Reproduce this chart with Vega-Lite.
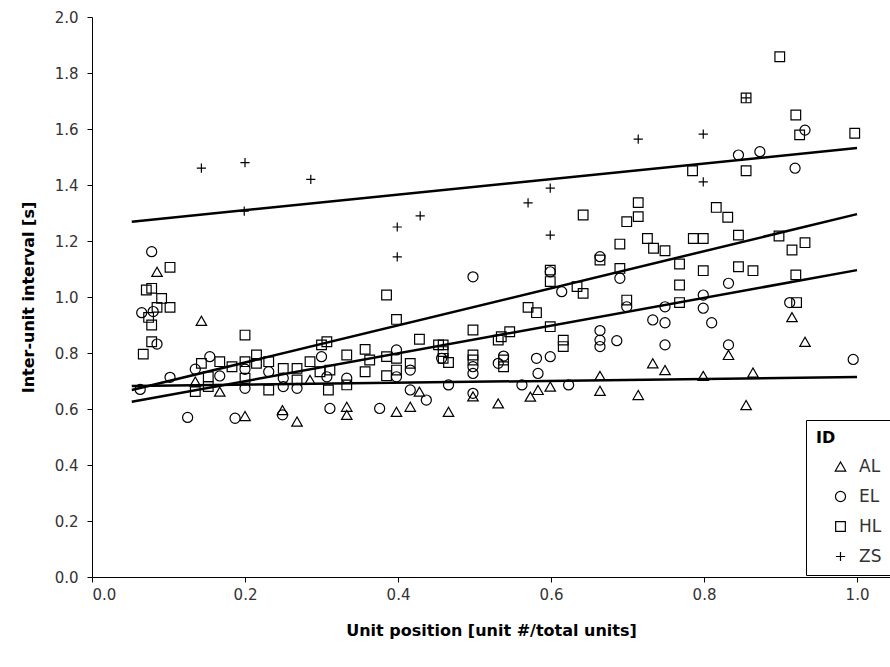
{
  "$schema": "https://vega.github.io/schema/vega-lite/v6.json",
  "autosize": {"type": "none"},
  "padding": {"left": 92, "top": 17, "right": 0, "bottom": 90},
  "width": 798,
  "height": 560,
  "background": "white",
  "config": {
    "view": {"stroke": null},
    "font": "DejaVu Sans",
    "axis": {
      "domainColor": "black",
      "tickColor": "black",
      "grid": false,
      "labelFont": "DejaVu Sans",
      "labelFontSize": 15,
      "labelColor": "#333333",
      "titleFont": "DejaVu Sans",
      "titleFontSize": 16,
      "titleFontWeight": "bold",
      "titleColor": "black",
      "tickSize": 5
    },
    "legend": {
      "orient": "none",
      "legendX": 714,
      "legendY": 403,
      "strokeColor": "black",
      "fillColor": "white",
      "padding": 10,
      "titleFont": "DejaVu Sans",
      "titleFontSize": 16,
      "titleFontWeight": "bold",
      "titleColor": "black",
      "titlePadding": 12,
      "labelFont": "DejaVu Sans",
      "labelFontSize": 17,
      "labelColor": "#333333",
      "labelOffset": 10,
      "symbolOffset": 16,
      "rowPadding": 12,
      "symbolStrokeColor": "black"
    }
  },
  "datasets": {
    "lines": [
      {"x": 0.052, "y": 1.269, "id": "ZS"}, {"x": 1.0, "y": 1.532, "id": "ZS"},
      {"x": 0.052, "y": 0.668, "id": "HL"}, {"x": 1.0, "y": 1.296, "id": "HL"},
      {"x": 0.052, "y": 0.626, "id": "EL"}, {"x": 1.0, "y": 1.096, "id": "EL"},
      {"x": 0.052, "y": 0.682, "id": "AL"}, {"x": 1.0, "y": 0.714, "id": "AL"}
    ],
    "points": [
      {"x": 0.085, "y": 1.090, "id": "AL"}, {"x": 0.143, "y": 0.915, "id": "AL"}, {"x": 0.135, "y": 0.698, "id": "AL"},
      {"x": 0.167, "y": 0.662, "id": "AL"}, {"x": 0.2, "y": 0.575, "id": "AL"}, {"x": 0.249, "y": 0.596, "id": "AL"},
      {"x": 0.268, "y": 0.555, "id": "AL"}, {"x": 0.285, "y": 0.704, "id": "AL"}, {"x": 0.333, "y": 0.608, "id": "AL"},
      {"x": 0.333, "y": 0.579, "id": "AL"}, {"x": 0.398, "y": 0.590, "id": "AL"}, {"x": 0.416, "y": 0.608, "id": "AL"},
      {"x": 0.428, "y": 0.662, "id": "AL"}, {"x": 0.466, "y": 0.590, "id": "AL"}, {"x": 0.498, "y": 0.645, "id": "AL"},
      {"x": 0.531, "y": 0.620, "id": "AL"}, {"x": 0.573, "y": 0.644, "id": "AL"}, {"x": 0.583, "y": 0.668, "id": "AL"},
      {"x": 0.599, "y": 0.680, "id": "AL"}, {"x": 0.664, "y": 0.718, "id": "AL"}, {"x": 0.664, "y": 0.665, "id": "AL"},
      {"x": 0.714, "y": 0.650, "id": "AL"}, {"x": 0.733, "y": 0.763, "id": "AL"}, {"x": 0.749, "y": 0.739, "id": "AL"},
      {"x": 0.799, "y": 0.718, "id": "AL"}, {"x": 0.855, "y": 0.614, "id": "AL"}, {"x": 0.864, "y": 0.730, "id": "AL"},
      {"x": 0.832, "y": 0.793, "id": "AL"}, {"x": 0.915, "y": 0.928, "id": "AL"}, {"x": 0.932, "y": 0.840, "id": "AL"},

      {"x": 0.078, "y": 1.162, "id": "EL"}, {"x": 0.065, "y": 0.944, "id": "EL"}, {"x": 0.080, "y": 0.948, "id": "EL"},
      {"x": 0.085, "y": 0.832, "id": "EL"}, {"x": 0.063, "y": 0.670, "id": "EL"}, {"x": 0.102, "y": 0.713, "id": "EL"},
      {"x": 0.154, "y": 0.787, "id": "EL"}, {"x": 0.135, "y": 0.742, "id": "EL"}, {"x": 0.167, "y": 0.718, "id": "EL"},
      {"x": 0.2, "y": 0.742, "id": "EL"}, {"x": 0.2, "y": 0.674, "id": "EL"}, {"x": 0.231, "y": 0.733, "id": "EL"},
      {"x": 0.25, "y": 0.710, "id": "EL"}, {"x": 0.25, "y": 0.680, "id": "EL"}, {"x": 0.268, "y": 0.674, "id": "EL"},
      {"x": 0.30, "y": 0.787, "id": "EL"}, {"x": 0.307, "y": 0.715, "id": "EL"}, {"x": 0.311, "y": 0.602, "id": "EL"},
      {"x": 0.125, "y": 0.570, "id": "EL"}, {"x": 0.187, "y": 0.567, "id": "EL"}, {"x": 0.249, "y": 0.579, "id": "EL"},
      {"x": 0.398, "y": 0.811, "id": "EL"}, {"x": 0.398, "y": 0.715, "id": "EL"}, {"x": 0.416, "y": 0.739, "id": "EL"},
      {"x": 0.416, "y": 0.668, "id": "EL"}, {"x": 0.437, "y": 0.632, "id": "EL"}, {"x": 0.466, "y": 0.686, "id": "EL"},
      {"x": 0.498, "y": 1.072, "id": "EL"}, {"x": 0.498, "y": 0.751, "id": "EL"}, {"x": 0.498, "y": 0.727, "id": "EL"},
      {"x": 0.498, "y": 0.656, "id": "EL"}, {"x": 0.531, "y": 0.763, "id": "EL"}, {"x": 0.538, "y": 0.789, "id": "EL"},
      {"x": 0.581, "y": 0.781, "id": "EL"}, {"x": 0.599, "y": 0.787, "id": "EL"}, {"x": 0.583, "y": 0.727, "id": "EL"},
      {"x": 0.562, "y": 0.686, "id": "EL"}, {"x": 0.623, "y": 0.686, "id": "EL"}, {"x": 0.333, "y": 0.710, "id": "EL"},
      {"x": 0.376, "y": 0.602, "id": "EL"}, {"x": 0.599, "y": 1.090, "id": "EL"}, {"x": 0.614, "y": 1.019, "id": "EL"},
      {"x": 0.664, "y": 1.144, "id": "EL"}, {"x": 0.690, "y": 1.067, "id": "EL"}, {"x": 0.832, "y": 1.049, "id": "EL"},
      {"x": 0.799, "y": 1.007, "id": "EL"}, {"x": 0.749, "y": 0.965, "id": "EL"}, {"x": 0.699, "y": 0.965, "id": "EL"},
      {"x": 0.799, "y": 0.960, "id": "EL"}, {"x": 0.733, "y": 0.918, "id": "EL"}, {"x": 0.749, "y": 0.908, "id": "EL"},
      {"x": 0.810, "y": 0.908, "id": "EL"}, {"x": 0.912, "y": 0.980, "id": "EL"}, {"x": 0.664, "y": 0.880, "id": "EL"},
      {"x": 0.664, "y": 0.846, "id": "EL"}, {"x": 0.664, "y": 0.823, "id": "EL"}, {"x": 0.686, "y": 0.844, "id": "EL"},
      {"x": 0.749, "y": 0.829, "id": "EL"}, {"x": 0.832, "y": 0.829, "id": "EL"}, {"x": 0.995, "y": 0.777, "id": "EL"},
      {"x": 0.845, "y": 1.507, "id": "EL"}, {"x": 0.873, "y": 1.519, "id": "EL"}, {"x": 0.919, "y": 1.460, "id": "EL"},
      {"x": 0.932, "y": 1.596, "id": "EL"}, {"x": 0.457, "y": 0.781, "id": "EL"},

      {"x": 0.102, "y": 1.106, "id": "HL"}, {"x": 0.071, "y": 1.025, "id": "HL"}, {"x": 0.078, "y": 1.031, "id": "HL"},
      {"x": 0.091, "y": 0.995, "id": "HL"}, {"x": 0.102, "y": 0.963, "id": "HL"}, {"x": 0.085, "y": 0.963, "id": "HL"},
      {"x": 0.074, "y": 0.927, "id": "HL"}, {"x": 0.078, "y": 0.900, "id": "HL"}, {"x": 0.078, "y": 0.840, "id": "HL"},
      {"x": 0.067, "y": 0.796, "id": "HL"}, {"x": 0.2, "y": 0.864, "id": "HL"}, {"x": 0.143, "y": 0.763, "id": "HL"},
      {"x": 0.167, "y": 0.769, "id": "HL"}, {"x": 0.152, "y": 0.715, "id": "HL"}, {"x": 0.152, "y": 0.680, "id": "HL"},
      {"x": 0.135, "y": 0.662, "id": "HL"}, {"x": 0.183, "y": 0.751, "id": "HL"}, {"x": 0.2, "y": 0.769, "id": "HL"},
      {"x": 0.2, "y": 0.710, "id": "HL"}, {"x": 0.215, "y": 0.793, "id": "HL"}, {"x": 0.215, "y": 0.763, "id": "HL"},
      {"x": 0.231, "y": 0.769, "id": "HL"}, {"x": 0.231, "y": 0.668, "id": "HL"}, {"x": 0.25, "y": 0.745, "id": "HL"},
      {"x": 0.268, "y": 0.745, "id": "HL"}, {"x": 0.268, "y": 0.704, "id": "HL"}, {"x": 0.285, "y": 0.769, "id": "HL"},
      {"x": 0.30, "y": 0.829, "id": "HL"}, {"x": 0.307, "y": 0.840, "id": "HL"}, {"x": 0.298, "y": 0.733, "id": "HL"},
      {"x": 0.309, "y": 0.668, "id": "HL"}, {"x": 0.385, "y": 1.007, "id": "HL"}, {"x": 0.398, "y": 0.920, "id": "HL"},
      {"x": 0.333, "y": 0.793, "id": "HL"}, {"x": 0.357, "y": 0.813, "id": "HL"}, {"x": 0.363, "y": 0.775, "id": "HL"},
      {"x": 0.357, "y": 0.733, "id": "HL"}, {"x": 0.385, "y": 0.787, "id": "HL"}, {"x": 0.398, "y": 0.781, "id": "HL"},
      {"x": 0.398, "y": 0.739, "id": "HL"}, {"x": 0.385, "y": 0.719, "id": "HL"}, {"x": 0.416, "y": 0.763, "id": "HL"},
      {"x": 0.428, "y": 0.849, "id": "HL"}, {"x": 0.453, "y": 0.829, "id": "HL"}, {"x": 0.459, "y": 0.829, "id": "HL"},
      {"x": 0.459, "y": 0.805, "id": "HL"}, {"x": 0.459, "y": 0.781, "id": "HL"}, {"x": 0.466, "y": 0.766, "id": "HL"},
      {"x": 0.498, "y": 0.882, "id": "HL"}, {"x": 0.498, "y": 0.793, "id": "HL"}, {"x": 0.498, "y": 0.775, "id": "HL"},
      {"x": 0.531, "y": 0.846, "id": "HL"}, {"x": 0.546, "y": 0.876, "id": "HL"}, {"x": 0.535, "y": 0.858, "id": "HL"},
      {"x": 0.538, "y": 0.775, "id": "HL"}, {"x": 0.538, "y": 0.751, "id": "HL"}, {"x": 0.570, "y": 0.963, "id": "HL"},
      {"x": 0.581, "y": 0.944, "id": "HL"}, {"x": 0.599, "y": 1.096, "id": "HL"}, {"x": 0.599, "y": 1.055, "id": "HL"},
      {"x": 0.599, "y": 0.894, "id": "HL"}, {"x": 0.616, "y": 0.846, "id": "HL"}, {"x": 0.616, "y": 0.823, "id": "HL"},
      {"x": 0.333, "y": 0.686, "id": "HL"}, {"x": 0.311, "y": 0.739, "id": "HL"}, {"x": 0.642, "y": 1.293, "id": "HL"},
      {"x": 0.714, "y": 1.337, "id": "HL"}, {"x": 0.714, "y": 1.287, "id": "HL"}, {"x": 0.699, "y": 1.269, "id": "HL"},
      {"x": 0.816, "y": 1.320, "id": "HL"}, {"x": 0.831, "y": 1.285, "id": "HL"}, {"x": 0.690, "y": 1.189, "id": "HL"},
      {"x": 0.726, "y": 1.209, "id": "HL"}, {"x": 0.734, "y": 1.174, "id": "HL"}, {"x": 0.749, "y": 1.165, "id": "HL"},
      {"x": 0.786, "y": 1.209, "id": "HL"}, {"x": 0.799, "y": 1.209, "id": "HL"}, {"x": 0.845, "y": 1.221, "id": "HL"},
      {"x": 0.898, "y": 1.218, "id": "HL"}, {"x": 0.932, "y": 1.194, "id": "HL"}, {"x": 0.915, "y": 1.168, "id": "HL"},
      {"x": 0.664, "y": 1.132, "id": "HL"}, {"x": 0.690, "y": 1.102, "id": "HL"}, {"x": 0.768, "y": 1.118, "id": "HL"},
      {"x": 0.799, "y": 1.094, "id": "HL"}, {"x": 0.845, "y": 1.108, "id": "HL"}, {"x": 0.864, "y": 1.094, "id": "HL"},
      {"x": 0.920, "y": 1.079, "id": "HL"}, {"x": 0.768, "y": 1.043, "id": "HL"}, {"x": 0.768, "y": 0.980, "id": "HL"},
      {"x": 0.699, "y": 0.989, "id": "HL"}, {"x": 0.634, "y": 1.037, "id": "HL"}, {"x": 0.642, "y": 1.013, "id": "HL"},
      {"x": 0.921, "y": 0.980, "id": "HL"}, {"x": 0.785, "y": 1.451, "id": "HL"}, {"x": 0.855, "y": 1.451, "id": "HL"},
      {"x": 0.899, "y": 1.858, "id": "HL"}, {"x": 0.855, "y": 1.711, "id": "HL"}, {"x": 0.920, "y": 1.650, "id": "HL"},
      {"x": 0.925, "y": 1.579, "id": "HL"}, {"x": 0.997, "y": 1.585, "id": "HL"},

      {"x": 0.143, "y": 1.46, "id": "ZS"}, {"x": 0.2, "y": 1.48, "id": "ZS"}, {"x": 0.199, "y": 1.307, "id": "ZS"},
      {"x": 0.286, "y": 1.42, "id": "ZS"}, {"x": 0.399, "y": 1.25, "id": "ZS"}, {"x": 0.399, "y": 1.143, "id": "ZS"},
      {"x": 0.429, "y": 1.29, "id": "ZS"}, {"x": 0.570, "y": 1.336, "id": "ZS"}, {"x": 0.599, "y": 1.389, "id": "ZS"},
      {"x": 0.599, "y": 1.221, "id": "ZS"}, {"x": 0.714, "y": 1.564, "id": "ZS"}, {"x": 0.799, "y": 1.582, "id": "ZS"},
      {"x": 0.799, "y": 1.411, "id": "ZS"}, {"x": 0.855, "y": 1.711, "id": "ZS"}
    ]
  },
  "layer": [
    {
      "data": {"name": "lines"},
      "mark": {"type": "line", "color": "black", "strokeWidth": 2.5},
      "encoding": {
        "x": {"field": "x", "type": "quantitative"},
        "y": {"field": "y", "type": "quantitative"},
        "detail": {"field": "id", "type": "nominal"}
      }
    },
    {
      "data": {"name": "points"},
      "mark": {"type": "point", "filled": false, "color": "black", "opacity": 1},
      "encoding": {
        "x": {
          "field": "x", "type": "quantitative",
          "scale": {"domain": [0, 1.0431], "nice": false, "zero": false},
          "axis": {"values": [0, 0.2, 0.4, 0.6, 0.8, 1.0], "format": ".1f", "title": "Unit position [unit #/total units]", "titlePadding": 20, "labelPadding": 5}
        },
        "y": {
          "field": "y", "type": "quantitative",
          "scale": {"domain": [0, 2], "nice": false},
          "axis": {"values": [0, 0.2, 0.4, 0.6, 0.8, 1.0, 1.2, 1.4, 1.6, 1.8, 2.0], "format": ".1f", "title": "Inter-unit interval [s]", "titlePadding": 18, "labelPadding": 9}
        },
        "shape": {
          "field": "id", "type": "nominal", "title": "ID",
          "scale": {"domain": ["AL", "EL", "HL", "ZS"], "range": ["triangle-up", "circle", "square", "M-1,0L1,0M0,-1L0,1"]}
        },
        "size": {
          "field": "id", "type": "nominal", "title": "ID",
          "scale": {"domain": ["AL", "EL", "HL", "ZS"], "range": [110, 85, 150, 150]}
        },
        "strokeWidth": {
          "field": "id", "type": "nominal", "title": "ID",
          "scale": {"domain": ["AL", "EL", "HL", "ZS"], "range": [1.2, 1.2, 1.2, 3]}
        }
      }
    }
  ]
}
